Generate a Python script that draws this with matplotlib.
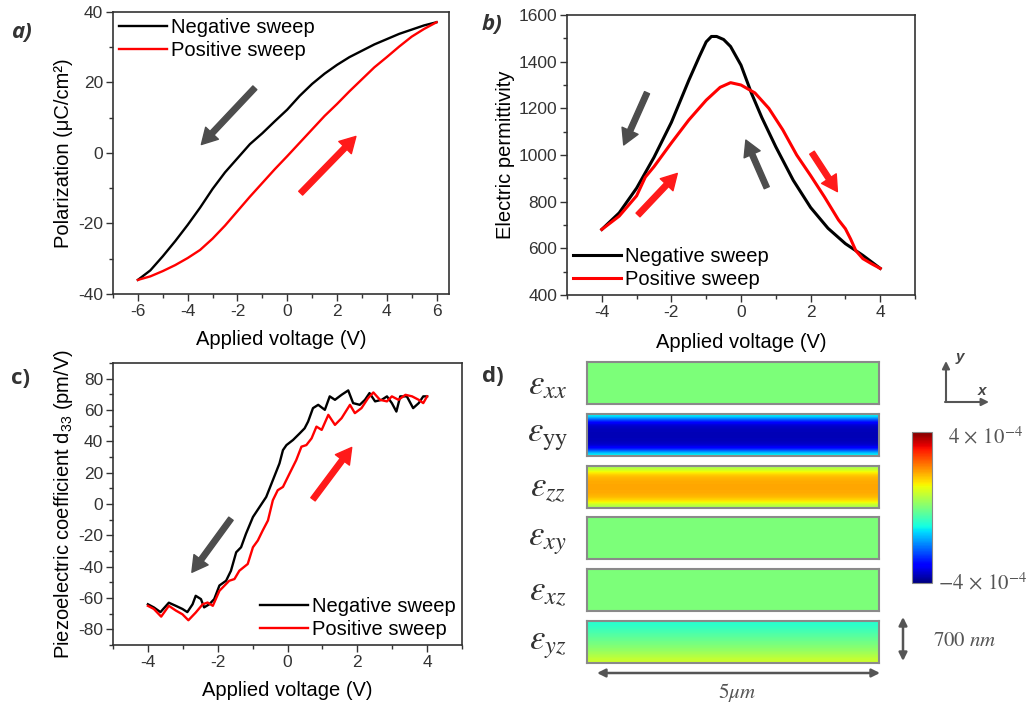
import numpy as np
import matplotlib
matplotlib.use('Agg')
import matplotlib.pyplot as plt
from matplotlib.ticker import MultipleLocator

plt.rcParams['font.family'] = ['Liberation Sans', 'DejaVu Sans']
plt.rcParams['axes.unicode_minus'] = False
plt.rcParams['mathtext.fontset'] = 'custom'
plt.rcParams['mathtext.rm'] = 'Liberation Sans'
plt.rcParams['mathtext.it'] = 'Liberation Sans:italic'

# a) polarization loop
a_v_neg = [-6.0, -5.5, -5.0, -4.5, -4.0, -3.5, -3.0, -2.5, -2.0, -1.5, -1.0, -0.5, 0.0,
           0.5, 1.0, 1.5, 2.0, 2.5, 3.0, 3.5, 4.0, 4.5, 5.0, 5.5, 6.0]
a_p_neg = [-36.0, -33.3, -29.3, -25.0, -20.4, -15.5, -10.2, -5.5, -1.5, 2.5, 5.6, 9.0, 12.3,
           16.2, 19.6, 22.5, 25.0, 27.2, 29.0, 30.8, 32.3, 33.8, 35.0, 36.2, 37.1]
a_v_pos = a_v_neg
a_p_pos = [-36.0, -35.0, -33.5, -31.8, -29.8, -27.5, -24.3, -20.6, -16.5, -12.4, -8.5, -4.6, -0.9,
           2.9, 6.7, 10.5, 13.9, 17.5, 20.9, 24.3, 27.2, 30.2, 33.0, 35.2, 37.1]

# b) permittivity
b_v_neg = [-4.0, -3.5, -3.0, -2.5, -2.0, -1.5, -1.2, -1.0, -0.85, -0.7, -0.5, -0.3, 0.0, 0.3, 0.6,
           1.0, 1.5, 2.0, 2.5, 3.0, 3.5, 4.0]
b_e_neg = [681, 752, 858, 990, 1140, 1320, 1421, 1485, 1508, 1508, 1495, 1465, 1385, 1265, 1160,
           1035, 892, 775, 686, 620, 570, 514]
b_v_pos = [-4.0, -3.5, -3.0, -2.75, -2.5, -2.0, -1.5, -1.0, -0.6, -0.3, 0.0, 0.4, 0.8,
           1.2, 1.6, 2.0, 2.4, 2.8, 3.0, 3.15, 3.3, 3.5, 3.75, 4.0]
b_e_pos = [681, 738, 825, 905, 950, 1052, 1150, 1235, 1290, 1310, 1300, 1266, 1200,
           1108, 1000, 912, 820, 722, 684, 640, 590, 556, 534, 514]

# c) d33
c_v_neg = [-4.0, -3.83, -3.64, -3.4, -3.2, -3.01, -2.87, -2.72, -2.63, -2.48, -2.39, -2.24,
           -2.1, -1.95, -1.76, -1.62, -1.47, -1.33, -1.19, -0.99, -0.8, -0.61, -0.42, -0.23,
           -0.13, -0.03, 0.16, 0.35, 0.49, 0.59, 0.73, 0.88, 1.07, 1.21, 1.36, 1.55, 1.74,
           1.88, 2.07, 2.22, 2.35, 2.51, 2.7, 2.85, 2.99, 3.12, 3.23, 3.42, 3.6, 3.76, 3.89, 4.0]
c_d_neg = [-64, -66, -69, -63, -65, -67, -69, -64, -58.6, -60.7, -66, -64,
           -60.7, -52, -49, -42.6, -30.8, -27.6, -19, -8.3, -1.9, 4.5, 15.2, 25.9,
           34.4, 37.6, 40.9, 45.1, 48.3, 52.6, 61.2, 63.3, 60.1, 68.7, 66.5, 69.7, 72.5,
           64.4, 63.3, 66.5, 70.8, 65.5, 66.5, 68.7, 64.4, 59, 68.7, 68.7, 61.2, 64.4, 68.7, 68.7]
c_v_pos = [-4.0, -3.83, -3.62, -3.4, -3.2, -3.01, -2.84, -2.63, -2.43, -2.29, -2.14, -1.95,
           -1.81, -1.67, -1.52, -1.38, -1.14, -0.99, -0.85, -0.71, -0.56, -0.42, -0.28, -0.13,
           0.06, 0.25, 0.4, 0.54, 0.69, 0.83, 0.98, 1.17, 1.36, 1.55, 1.79, 1.93, 2.12, 2.31,
           2.46, 2.65, 2.85, 2.99, 3.18, 3.38, 3.57, 3.76, 3.89, 4.0]
c_d_pos = [-65, -67, -71.9, -65, -68, -70.4, -74.2, -69.3, -64, -62.9, -65, -55.4,
           -52.2, -49, -47.9, -42.6, -38.3, -27.6, -23.3, -16.9, -10.5, 2.4, 8.8, 10.9,
           19.5, 28, 36.6, 37.6, 41.9, 49.4, 47.3, 56.9, 50.5, 54.8, 63.3, 58, 61.2, 67.6,
           71.2, 66.5, 65.5, 68.7, 66.5, 69.7, 68.7, 66.5, 64.4, 68.7]

# sweep-direction arrows (start, end) in data units
a_arrows = [((-1.30, 18.5), (-3.45, 2.4), 'grey'), ((0.54, -11.4), (2.76, 4.7), 'red')]
b_arrows = [((-2.70, 1267), (-3.37, 1043), 'grey'), ((-2.96, 743), (-1.83, 921), 'red'),
            ((0.74, 860), (0.14, 1064), 'grey'), ((2.04, 1010), (2.77, 843), 'red')]
c_arrows = [((-1.62, -9.4), (-2.74, -43.6), 'grey'), ((0.73, 3.0), (1.84, 36.1), 'red')]

# d) strain profiles through the film thickness (top -> bottom), units of 1e-4
strain_labels = [r'$\varepsilon_{xx}$', r'$\varepsilon_{\mathrm{yy}}$', r'$\varepsilon_{zz}$',
                 r'$\varepsilon_{xy}$', r'$\varepsilon_{xz}$', r'$\varepsilon_{yz}$']
strain_profiles = [
    [0, 0, 0, 0, 0, 0, 0, 0, 0, 0, 0],
    [-1.0, -2.4, -3.3, -3.55, -3.6, -3.6, -3.6, -3.55, -3.3, -2.4, -1.0],
    [0.4, 1.2, 1.6, 1.8, 1.85, 1.85, 1.85, 1.8, 1.6, 1.2, 0.4],
    [0, 0, 0, 0, 0, 0, 0, 0, 0, 0, 0],
    [0, 0, 0, 0, 0, 0, 0, 0, 0, 0, 0],
    [-0.8, -0.7, -0.55, -0.4, -0.25, -0.1, 0.05, 0.2, 0.4, 0.6, 0.8],
]

W, H = 1035, 705
fig = plt.figure(figsize=(W / 100, H / 100), dpi=100)


def px_axes(l, t, r, b):
    return fig.add_axes([l / W, 1 - b / H, (r - l) / W, (b - t) / H])


def style(ax, xmaj, ymaj):
    for s in ax.spines.values():
        s.set_linewidth(1.2)
        s.set_color('#333333')
    ax.xaxis.set_major_locator(MultipleLocator(xmaj))
    ax.xaxis.set_minor_locator(MultipleLocator(xmaj / 2))
    ax.yaxis.set_major_locator(MultipleLocator(ymaj))
    ax.yaxis.set_minor_locator(MultipleLocator(ymaj / 2))
    ax.tick_params(which='both', direction='out', top=False, right=False,
                   color='#333333', labelcolor='#333333', labelsize=12.5, width=1)
    ax.tick_params(which='major', length=5, pad=2)
    ax.tick_params(which='minor', length=3)


def sweep_arrows(ax, arrows):
    for start, end, c in arrows:
        ax.annotate('', xy=end, xytext=start,
                    arrowprops=dict(arrowstyle='simple,head_length=0.8,head_width=0.9,tail_width=0.28',
                                    color='#4d4d4d' if c == 'grey' else '#ff1a1a',
                                    mutation_scale=14, shrinkA=0, shrinkB=0))


def labels(ax, ylab, xfrac, yfrac):
    ax.set_xlabel('Applied voltage (V)', fontsize=14.5, va='center')
    ax.set_ylabel(ylab, fontsize=14.5, va='center')
    ax.xaxis.set_label_coords(0.5, yfrac)
    ax.yaxis.set_label_coords(xfrac, 0.5)


leg_kw = dict(frameon=False, fontsize=14.5, handlelength=2.4, handletextpad=0.2,
              labelspacing=0.2, borderpad=0.1, borderaxespad=0.2)

# ---- a)
ax = px_axes(113, 12, 449, 294)
ax.plot(a_v_neg, a_p_neg, color='black', lw=1.7, label='Negative sweep')
ax.plot(a_v_pos, a_p_pos, color='red', lw=1.7, label='Positive sweep')
ax.set_xlim(-7, 6.5)
ax.set_ylim(-40, 40)
style(ax, 2, 20)
ax.yaxis.set_minor_locator(MultipleLocator(10))
sweep_arrows(ax, a_arrows)
labels(ax, 'Polarization (μC/cm²)', -0.146, -0.163)
ax.legend(loc='upper left', **leg_kw)

# ---- b)
ax = px_axes(567, 15, 915, 295)
ax.plot(b_v_neg, b_e_neg, color='black', lw=2.2, label='Negative sweep')
ax.plot(b_v_pos, b_e_pos, color='red', lw=2.2, label='Positive sweep')
ax.set_xlim(-5, 5)
ax.set_ylim(400, 1600)
style(ax, 2, 200)
sweep_arrows(ax, b_arrows)
labels(ax, 'Electric permittivity', -0.178, -0.168)
ax.legend(loc='lower left', **leg_kw)

# ---- c)
ax = px_axes(113, 363, 462, 645)
ax.plot(c_v_neg, c_d_neg, color='black', lw=1.7, label='Negative sweep')
ax.plot(c_v_pos, c_d_pos, color='red', lw=1.7, label='Positive sweep')
ax.set_xlim(-5, 5)
ax.set_ylim(-90, 90)
style(ax, 2, 20)
sweep_arrows(ax, c_arrows)
labels(ax, r'Piezoelectric coefficient d$_{33}$ (pm/V)', -0.143, -0.16)
ax.legend(loc='lower right', **leg_kw)

# ---- d)
im = None
for i, (lab, prof) in enumerate(zip(strain_labels, strain_profiles)):
    top = 362 + i * 51.8
    bax = px_axes(587, top, 879, top + 42)
    im = bax.imshow(np.array(prof)[:, None] * 1e-4, cmap='jet', vmin=-4e-4, vmax=4e-4,
                    aspect='auto', interpolation='bicubic')
    bax.set_xticks([])
    bax.set_yticks([])
    for s in bax.spines.values():
        s.set_color('#8a8a8a')
        s.set_linewidth(1.5)
    bax.text(-0.135, 0.45, lab, transform=bax.transAxes, ha='center', va='center',
             fontsize=25, color='#333333', math_fontfamily='stix')

cax = px_axes(912, 432, 932, 583)
cb = fig.colorbar(im, cax=cax)
cb.set_ticks([])
cb.outline.set_edgecolor('#8a8a8a')

ov = fig.add_axes([0, 0, 1, 1])
ov.set_xlim(0, W)
ov.set_ylim(H, 0)
ov.axis('off')

for x, y, t, it in [(21, 33, 'a)', True), (492, 24, 'b)', True), (20, 379, 'c)', False), (493, 376, 'd)', False)]:
    ov.text(x, y, t, fontsize=16, fontweight='bold', style='italic' if it else 'normal',
            family=['Open Sans', 'DejaVu Sans'], ha='center', va='center', color='#333333')

ov.text(948, 437, r'$4\,\times\,10^{-4}$', fontsize=15, color='#555555', ha='left', va='center',
        math_fontfamily='stix')
ov.text(938, 583, r'$-4\,\times\,10^{-4}$', fontsize=15, color='#555555', ha='left', va='center',
        math_fontfamily='stix')
ov.text(933, 640, r'$700\ nm$', fontsize=15, color='#555555', ha='left', va='center',
        math_fontfamily='stix')
ov.text(737, 692, r'$5\mu m$', fontsize=15, color='#555555', ha='center', va='center',
        math_fontfamily='stix')

dbl = dict(arrowstyle='<|-|>', color='#555555', lw=1.8, mutation_scale=12, shrinkA=0, shrinkB=0)
ov.annotate('', xy=(597, 673), xytext=(880, 673), arrowprops=dbl)
ov.annotate('', xy=(903, 617), xytext=(903, 661), arrowprops=dbl)
one = dict(arrowstyle='-|>', color='#555555', lw=1.5, mutation_scale=11, shrinkA=0, shrinkB=0)
ov.annotate('', xy=(946, 361), xytext=(946, 402), arrowprops=one)
ov.annotate('', xy=(989, 402), xytext=(945, 402), arrowprops=one)
ov.text(960, 357, 'y', fontsize=11, fontweight='bold', style='italic', color='#444444',
        ha='center', va='center')
ov.text(982, 391, 'x', fontsize=11, fontweight='bold', style='italic', color='#444444',
        ha='center', va='center')

fig.savefig('out.png', dpi=100)
